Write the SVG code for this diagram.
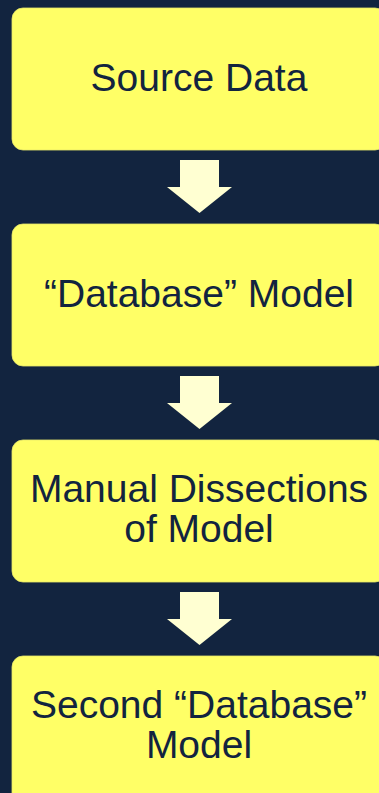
<svg xmlns="http://www.w3.org/2000/svg" width="379" height="793" viewBox="0 0 379 793">
  <style>
    .box { fill: #ffff66; stroke: #e8e86a; stroke-width: 0.8; }
    .lbl { font-family: "Liberation Sans", Arial, sans-serif; font-size: 39px; fill: #12243f; text-anchor: middle; }
    .arrow { fill: #ffffd2; }
  </style>
  <rect width="379" height="793" fill="#12243f"/>

  <g id="source-data">
    <rect class="box" x="12" y="8" width="374" height="142" rx="11"/>
    <text class="lbl" x="199" y="91">Source Data</text>
  </g>

  <g id="database-model">
    <rect class="box" x="12" y="224" width="374" height="142" rx="11"/>
    <text class="lbl" x="199" y="307">“Database” Model</text>
  </g>

  <g id="manual-dissections">
    <rect class="box" x="12" y="440" width="374" height="142" rx="11"/>
    <text class="lbl" x="199" y="502">Manual Dissections</text>
    <text class="lbl" x="199" y="542">of Model</text>
  </g>

  <g id="second-database-model">
    <rect class="box" x="12" y="656" width="374" height="160" rx="11"/>
    <text class="lbl" x="199" y="718">Second “Database”</text>
    <text class="lbl" x="199" y="758">Model</text>
  </g>

  <g id="connectors">
    <polygon class="arrow" points="180,160 219,160 219,187 232,187 199.5,213 167,187 180,187"/>
    <polygon class="arrow" points="180,376 219,376 219,403 232,403 199.5,429 167,403 180,403"/>
    <polygon class="arrow" points="180,592 219,592 219,619 232,619 199.5,645 167,619 180,619"/>
  </g>
</svg>
